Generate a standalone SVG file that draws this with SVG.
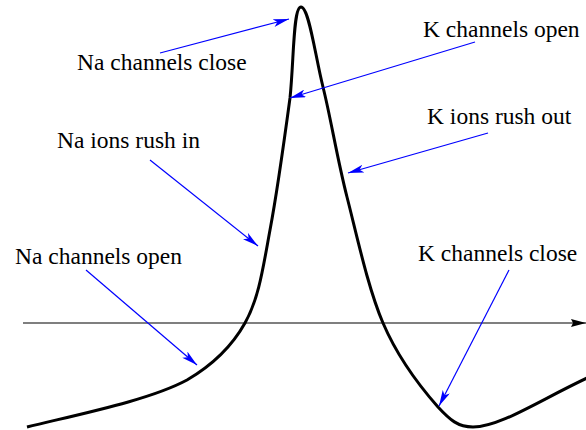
<svg xmlns="http://www.w3.org/2000/svg" width="586" height="430" viewBox="0 0 586 430">
<style>
.lbl{font-family:"Liberation Serif","Times New Roman",serif;font-size:23.5px;fill:#000}
.ptr{stroke:#0000ff;stroke-width:1.2;fill:none;marker-end:url(#bh)}
</style>
<defs>
<marker id="bh" markerUnits="userSpaceOnUse" viewBox="0 0 16 8" refX="16" refY="4" markerWidth="16" markerHeight="8" orient="auto">
<path d="M0,0 L16,4 L0,8 L4,4 z" fill="#0000ff"/>
</marker>
<marker id="kh" markerUnits="userSpaceOnUse" viewBox="0 0 15 8" refX="15" refY="4" markerWidth="15" markerHeight="8" orient="auto">
<path d="M0,0 L15,4 L0,8 L2,4 z" fill="#000"/>
</marker>
</defs>
<g id="axis">
<line x1="23" y1="323" x2="586" y2="323" stroke="#000" stroke-width="1.2" marker-end="url(#kh)"/>
</g>
<g id="curve">
<path d="M27,427 C80,414 150,400 187,380 C211,366 231,348 245,323 C259,298 263,268 270,230 C277,193 285,135 290,98 C294,60 293,7 301,7 C309,7 315,55 323,87 C331,119 337,158 347,197 C357,236 368,288 383,323 C398,358 423,390 438,407 C450,420 458,427 473,427 C500,427 540,400 587,378" fill="none" stroke="#000" stroke-width="3"/>
</g>
<g id="labels">
<text class="lbl" x="77" y="70">Na channels close</text>
<text class="lbl" x="423" y="37">K channels open</text>
<text class="lbl" x="427" y="124">K ions rush out</text>
<text class="lbl" x="57" y="148">Na ions rush in</text>
<text class="lbl" x="15" y="264">Na channels open</text>
<text class="lbl" x="418" y="261">K channels close</text>
</g>
<g id="connectors">
<line class="ptr" x1="160" y1="53" x2="289" y2="19"/>
<line class="ptr" x1="475" y1="42" x2="290" y2="98"/>
<line class="ptr" x1="488" y1="133" x2="348" y2="173"/>
<line class="ptr" x1="150" y1="160" x2="258" y2="246"/>
<line class="ptr" x1="86" y1="270" x2="197" y2="365"/>
<line class="ptr" x1="509" y1="270" x2="439" y2="406"/>
</g>
</svg>
